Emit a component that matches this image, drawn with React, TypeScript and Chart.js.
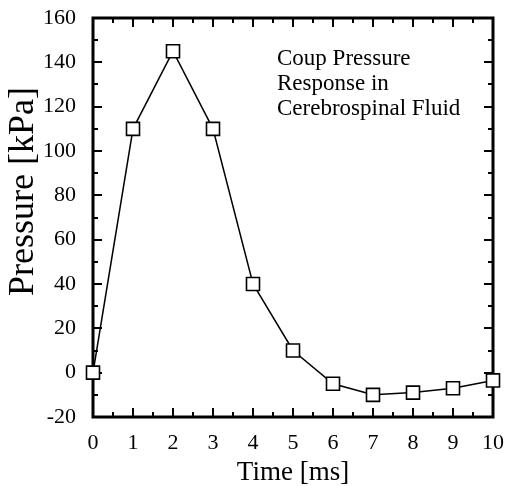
import React, { useEffect, useRef } from "react";
import { Chart, registerables } from "chart.js";

Chart.register(...registerables);

const times = [0, 1, 2, 3, 4, 5, 6, 7, 8, 9, 10];
const pressures = [0, 110, 145, 110, 40, 10, -5, -10, -9, -7, -3.5];
const xRange = [0, 10];
const yRange = [-20, 160];
const xMajorStep = 1;
const xMinorStep = 0.5;
const yMajorStep = 20;
const yMinorStep = 10;
const annotationLines = ["Coup Pressure", "Response in", "Cerebrospinal Fluid"];
const xTitle = "Time [ms]";
const yTitle = "Pressure [kPa]";

const SERIF = "'Liberation Serif', 'Times New Roman', serif";

const framePlugin = {
  id: "frameTicks",
  beforeDatasetsDraw(chart: any) {
    const { ctx, chartArea, scales } = chart;
    const { left, right, top, bottom } = chartArea;
    const x = scales.x;
    const y = scales.y;
    ctx.save();
    ctx.strokeStyle = "#000";
    ctx.lineWidth = 2;
    ctx.beginPath();
    for (let v = xRange[0]; v <= xRange[1] + 1e-9; v += xMinorStep) {
      const px = Math.round(x.getPixelForValue(v));
      const major = Math.abs(v / xMajorStep - Math.round(v / xMajorStep)) < 1e-6;
      const len = major ? 9 : 5;
      ctx.moveTo(px, bottom);
      ctx.lineTo(px, bottom - len);
      ctx.moveTo(px, top);
      ctx.lineTo(px, top + len);
    }
    for (let v = yRange[0]; v <= yRange[1] + 1e-9; v += yMinorStep) {
      const py = Math.round(y.getPixelForValue(v));
      const major = Math.abs(v / yMajorStep - Math.round(v / yMajorStep)) < 1e-6;
      const len = major ? 9 : 5;
      ctx.moveTo(left, py);
      ctx.lineTo(left + len, py);
      ctx.moveTo(right, py);
      ctx.lineTo(right - len, py);
    }
    ctx.stroke();
    ctx.lineWidth = 3;
    ctx.strokeRect(left, top, right - left, bottom - top);
    ctx.restore();
  },
  afterDraw(chart: any) {
    const { ctx, chartArea } = chart;
    const { left, right, top } = chartArea;
    ctx.save();
    ctx.fillStyle = "#000";
    ctx.font = `23px ${SERIF}`;
    ctx.textAlign = "left";
    ctx.textBaseline = "alphabetic";
    annotationLines.forEach((line, i) => {
      ctx.fillText(line, left + 184, top + 47 + i * 25);
    });
    ctx.font = `27px ${SERIF}`;
    ctx.textAlign = "center";
    ctx.fillText(xTitle, (left + right) / 2, 480);
    ctx.translate(33, 191.5);
    ctx.rotate(-Math.PI / 2);
    ctx.font = `36px ${SERIF}`;
    ctx.textAlign = "center";
    ctx.fillText(yTitle, 0, 0);
    ctx.restore();
  },
};

export default function App() {
  const ref = useRef<HTMLCanvasElement | null>(null);
  useEffect(() => {
    if (!ref.current) return;
    const chart = new Chart(ref.current, {
      type: "line",
      data: {
        datasets: [
          {
            data: times.map((t, i) => ({ x: t, y: pressures[i] })),
            borderColor: "#000",
            borderWidth: 1.5,
            pointStyle: "rect",
            pointRadius: 9.2,
            pointBackgroundColor: "#fff",
            pointBorderColor: "#000",
            pointBorderWidth: 1.6,
            clip: false as any,
            tension: 0,
          },
        ],
      },
      options: {
        animation: false,
        responsive: false,
        maintainAspectRatio: false,
        layout: { padding: { top: 18, right: 14, left: 0, bottom: 0 } },
        plugins: { legend: { display: false }, tooltip: { enabled: false }, title: { display: false } },
        scales: {
          x: {
            type: "linear",
            min: xRange[0],
            max: xRange[1],
            grid: { display: false, drawTicks: false },
            border: { display: false },
            ticks: {
              stepSize: xMajorStep,
              padding: 13,
              color: "#000",
              font: { family: SERIF, size: 22 },
              maxRotation: 0,
            },
            afterFit: (s: any) => {
              s.height = 69;
              s.paddingLeft = 0;
              s.paddingRight = 0;
              s.paddingTop = 0;
              s.paddingBottom = 0;
            },
          },
          y: {
            type: "linear",
            min: yRange[0],
            max: yRange[1],
            grid: { display: false, drawTicks: false },
            border: { display: false },
            ticks: {
              stepSize: yMajorStep,
              padding: 17,
              color: "#000",
              font: { family: SERIF, size: 22 },
            },
            afterFit: (s: any) => {
              s.width = 93;
              s.paddingLeft = 0;
              s.paddingRight = 0;
              s.paddingTop = 0;
              s.paddingBottom = 0;
            },
          },
        },
      },
      plugins: [framePlugin],
    });
    return () => chart.destroy();
  }, []);
  return (
    <div style={{ position: "fixed", left: 0, top: 0, width: 507, height: 486, background: "#fff" }}>
      <canvas ref={ref} width={507} height={486} style={{ display: "block", width: 507, height: 486 }} />
    </div>
  );
}
